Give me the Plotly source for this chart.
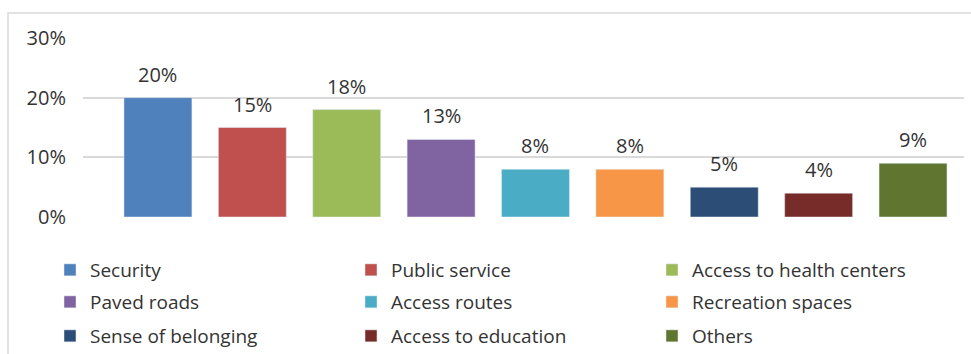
import plotly.graph_objects as go

categories = ["Security", "Public service", "Access to health centers", "Paved roads",
              "Access routes", "Recreation spaces", "Sense of belonging",
              "Access to education", "Others"]
values = [0.20, 0.15, 0.18, 0.13, 0.08, 0.08, 0.05, 0.04, 0.09]
colors = ["#4F81BD", "#C0504D", "#9BBB59", "#8064A2", "#4BACC6", "#F79646",
          "#2C4D75", "#772C2A", "#5F7530"]
y_ticks = [0, 0.1, 0.2, 0.3]
y_tick_labels = ["0%", "10%", "20%", "30%"]

FONT = "Open Sans"
TXT = "#333333"

fig = go.Figure()
legends = ["legend", "legend2", "legend3"]
for i, (c, v, col) in enumerate(zip(categories, values, colors)):
    fig.add_trace(go.Bar(x=[c], y=[v], name=c, marker_color=col, width=0.72,
                         legend=legends[i // 3], hoverinfo="name+y"))

annotations = [dict(x=c, y=v, text=f"{round(v*100)}%", showarrow=False,
                    yanchor="bottom", yshift=8, font=dict(family=FONT, size=20, color=TXT))
               for c, v in zip(categories, values)]

W, H = 971, 354
L, R, T, B = 83, 7, 38, 137
pw, ph = W - L - R, H - T - B

def px_x(x):
    return (x - L) / pw

def px_y(y):
    return (H - B - y) / ph

legend_common = dict(orientation="h", xanchor="left", yanchor="middle",
                     xref="paper", yref="paper",
                     entrywidth=256, font=dict(family=FONT, size=19, color=TXT),
                     bgcolor="rgba(0,0,0,0)", itemclick=False)
row_y = [270, 302, 336]
leg = {}
for k, name in enumerate(legends):
    leg[name] = dict(legend_common, x=px_x(50), y=px_y(row_y[k]))

fig.update_layout(
    width=W, height=H, margin=dict(l=L, r=R, t=T, b=B, autoexpand=False),
    paper_bgcolor="white", plot_bgcolor="white",
    barmode="overlay", showlegend=True,
    annotations=annotations,
    xaxis=dict(type="category", categoryorder="array", categoryarray=categories,
               range=[-0.794, 8.54], showticklabels=False, showgrid=False,
               zeroline=False, showline=False, fixedrange=True),
    yaxis=dict(range=[0, 0.30], tickvals=y_ticks, ticktext=y_tick_labels,
               showgrid=True, gridcolor="#D9D9D9", gridwidth=1.5, zeroline=False,
               showline=False, ticks="", ticklabelstandoff=16,
               tickfont=dict(family=FONT, size=20, color=TXT), fixedrange=True),
    shapes=[dict(type="rect", xref="paper", yref="paper",
                 x0=px_x(8), x1=px_x(1000), y0=px_y(400), y1=px_y(13),
                 line=dict(color="#D9D9D9", width=1.5), layer="below")],
    **leg,
)

fig.write_html("out.html")
